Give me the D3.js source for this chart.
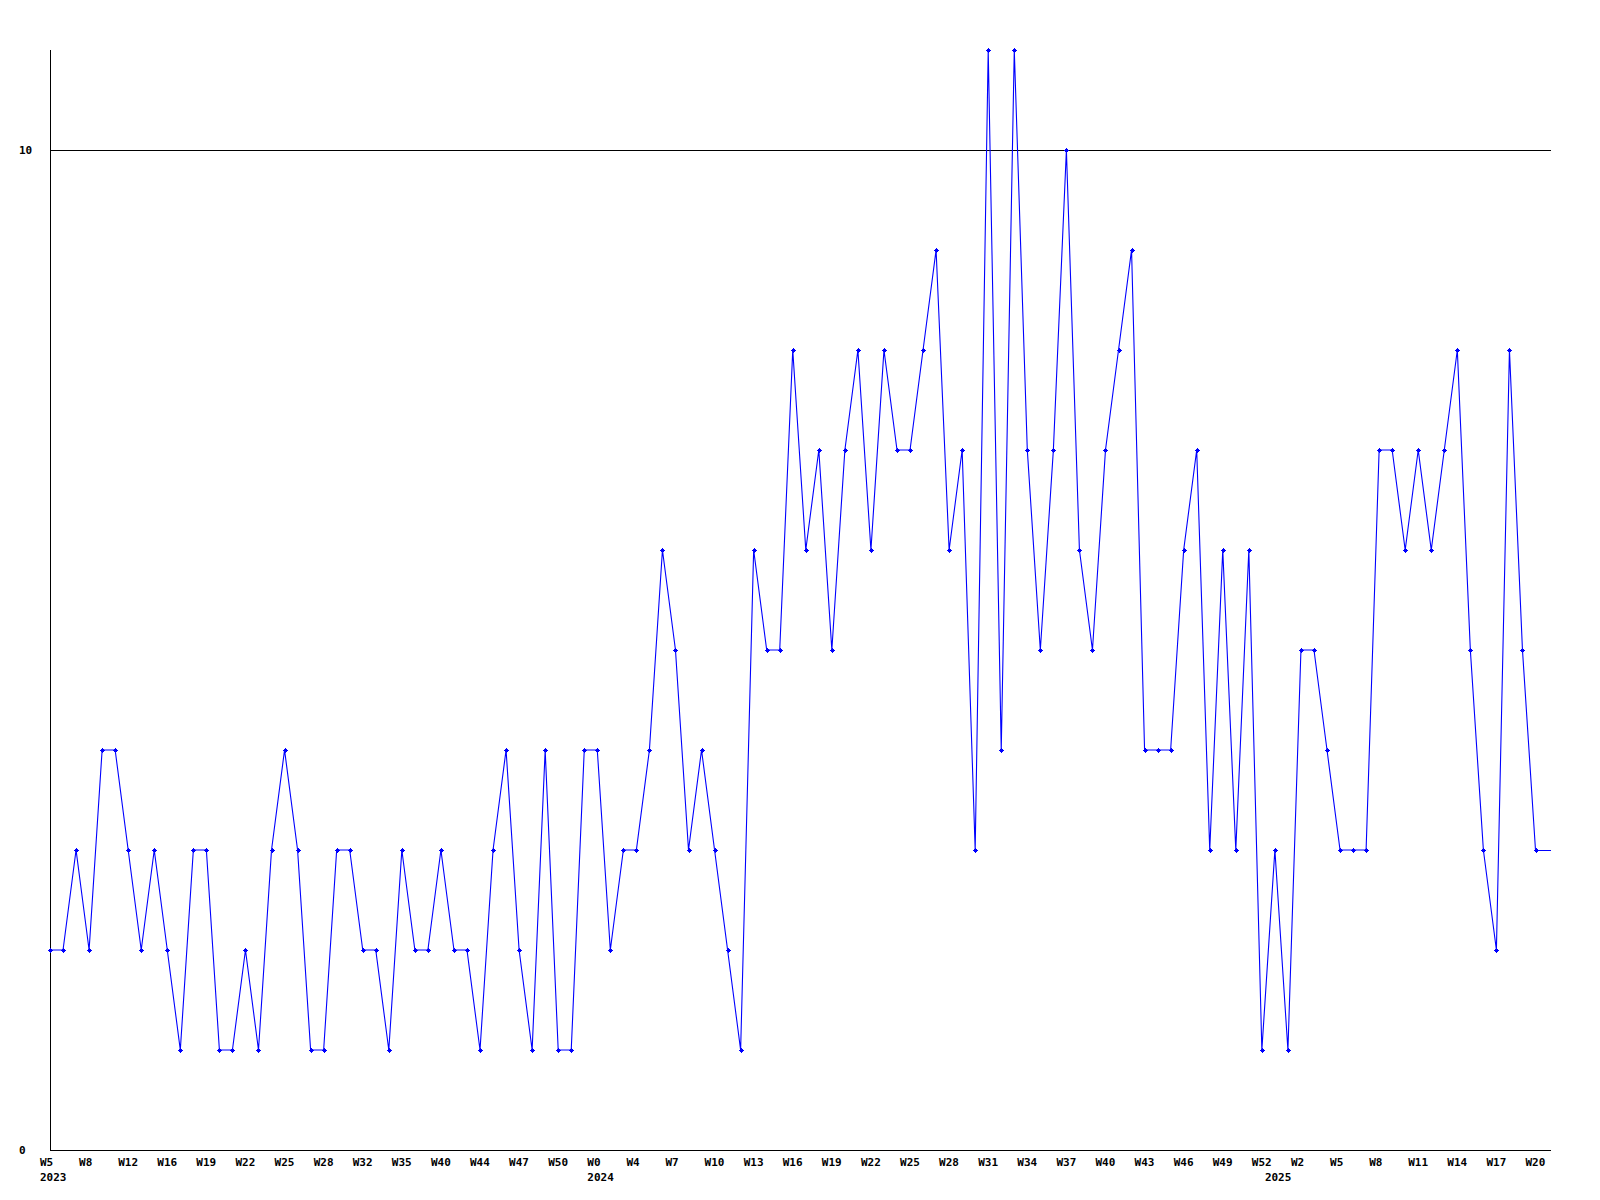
<!DOCTYPE html>
<html>
<head>
<meta charset="utf-8">
<script src="https://cdn.jsdelivr.net/npm/d3@7"></script>
<style>
  html, body { margin: 0; padding: 0; background: #ffffff; }
  svg { display: block; }
  text { font-family: "DejaVu Sans Mono", "Liberation Mono", monospace; font-weight: bold; font-size: 11px; fill: #000; }
</style>
</head>
<body>
<script>
// ---- data ----
const values = [
  2,2,3,2,4,4,3,2,3,2,
  1,3,3,1,1,2,1,3,4,3,
  1,1,3,3,2,2,1,3,2,2,
  3,2,2,1,3,4,2,1,4,1,
  1,4,4,2,3,3,4,6,5,3,
  4,3,2,1,6,5,5,8,6,7,
  5,7,8,6,8,7,7,8,9,6,
  7,3,11,4,11,7,5,7,10,6,
  5,7,8,9,4,4,4,6,7,3,
  6,3,6,1,3,1,5,5,4,3,
  3,3,7,7,6,7,6,7,8,5,
  3,2,8,5,3
];
const weekLabels = ["W5","W8","W12","W16","W19","W22","W25","W28","W32","W35","W40","W44","W47","W50",
  "W0","W4","W7","W10","W13","W16","W19","W22","W25","W28","W31","W34","W37","W40","W43","W46","W49","W52",
  "W2","W5","W8","W11","W14","W17","W20"];
const labelEvery = 3;
const yearLabels = ["2023","2024","2025"];
const yearStarts = [0, 42, 94];
const yTicks = [0, 10];
const yMax = 11;

(function () {
  // ---- layout ----
  const W = 1600, H = 1200;
  const mLeft = 50, mTop = 50, mBottom = 1150, plotRight = 1551;
  const lastX = 1535.5;

  const svg = d3.select("body").append("svg").attr("width", W).attr("height", H);

  const x = d3.scaleLinear().domain([0, values.length - 1]).range([mLeft, lastX]);
  const y = d3.scaleLinear().domain([0, yMax]).range([mBottom, mTop]);

  const px = v => Math.round(v) + 0.5;

  // gridlines (non-zero ticks)
  svg.append("g").selectAll("line").data(yTicks.filter(t => t !== 0)).join("line")
    .attr("x1", mLeft).attr("x2", plotRight)
    .attr("y1", d => px(y(d))).attr("y2", d => px(y(d)))
    .attr("stroke", "#000").attr("stroke-width", 1).attr("shape-rendering", "crispEdges");

  // axes
  svg.append("line").attr("x1", px(mLeft)).attr("x2", px(mLeft)).attr("y1", mTop).attr("y2", px(mBottom))
    .attr("stroke", "#000").attr("shape-rendering", "crispEdges");
  svg.append("line").attr("x1", mLeft).attr("x2", plotRight).attr("y1", px(mBottom)).attr("y2", px(mBottom))
    .attr("stroke", "#000").attr("shape-rendering", "crispEdges");

  // y tick labels
  svg.append("g").selectAll("text").data(yTicks).join("text")
    .attr("x", 19)
    .attr("y", d => y(d) + 4)
    .text(d => d);

  // x week labels
  svg.append("g").selectAll("text").data(weekLabels).join("text")
    .attr("x", (d, i) => x(i * labelEvery) - 10)
    .attr("y", 1166)
    .text(d => d);

  // year labels
  svg.append("g").selectAll("text").data(yearLabels).join("text")
    .attr("x", (d, i) => x(yearStarts[i]) - 10)
    .attr("y", 1181)
    .text(d => d);

  // line
  const line = d3.line().x((d, i) => x(i)).y(d => y(d));
  svg.append("path").datum(values)
    .attr("d", line)
    .attr("fill", "none").attr("stroke", "#0000ff").attr("stroke-width", 1.1);

  // extension of last value to plot edge
  const lastV = values[values.length - 1];
  svg.append("line")
    .attr("x1", x(values.length - 1)).attr("x2", plotRight)
    .attr("y1", px(y(lastV))).attr("y2", px(y(lastV)))
    .attr("stroke", "#0000ff").attr("stroke-width", 1).attr("shape-rendering", "crispEdges");

  // markers
  const markerPath = "M-2,0h5v1h-5z M0,-2h1v5h-1z M-1,-1h3v3h-3z";
  svg.append("g").selectAll("path").data(values).join("path")
    .attr("transform", (d, i) => `translate(${Math.round(x(i))},${Math.round(y(d))})`)
    .attr("d", markerPath)
    .attr("fill", "#0000ff")
    .attr("shape-rendering", "crispEdges");
})();
</script>
</body>
</html>
